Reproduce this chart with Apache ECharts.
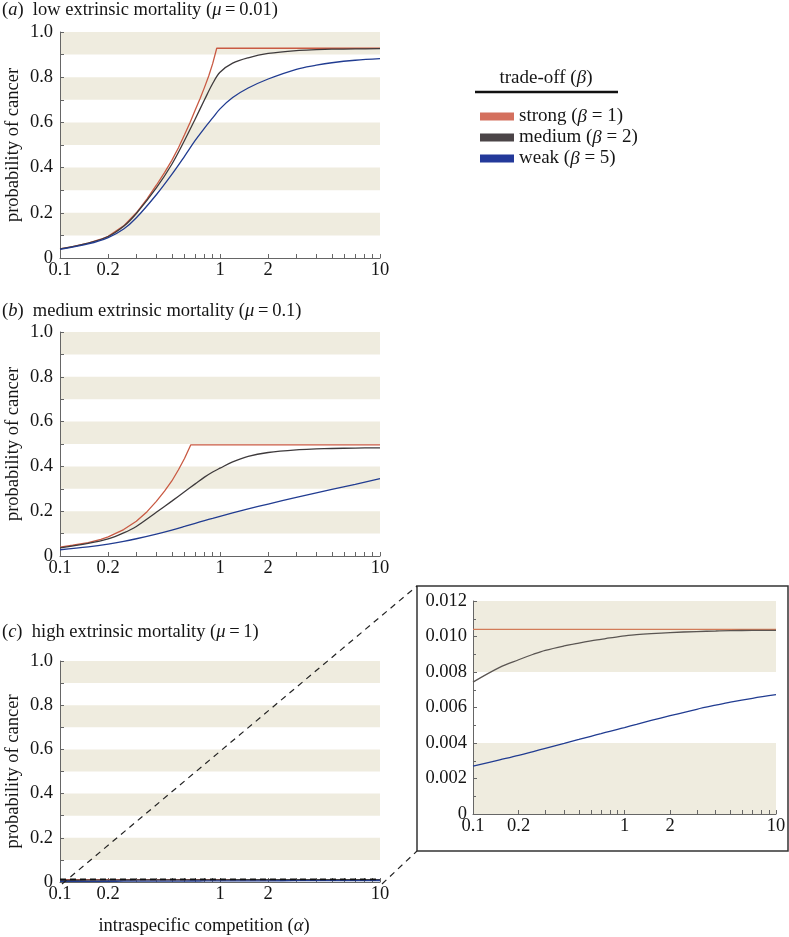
<!DOCTYPE html>
<html><head><meta charset="utf-8">
<script src="https://cdn.jsdelivr.net/npm/echarts@6/dist/echarts.min.js"></script>
<style>html,body{margin:0;padding:0;background:#fff}#c{width:789px;height:937px}</style>
</head><body><div id="c"></div>
<script>
// ---------- data ----------
const alphaGrid = [0.1,0.15,0.2,0.25,0.3,0.4,0.5,0.6,0.7,0.8,0.9,1,1.2,1.5,2,3,4,5,7,10];

// (a) mu = 0.01
const strongA_alpha = [0.1,0.12,0.15,0.18,0.2,0.25,0.3,0.35,0.4,0.45,0.5,0.55,0.6,0.65,0.7,0.75,0.8,0.85,0.9,0.954,10];
const strongA = [0.040,0.050,0.066,0.083,0.096,0.142,0.200,0.262,0.322,0.378,0.432,0.488,0.545,0.600,0.655,0.705,0.755,0.805,0.860,0.928,0.928];
const mediumA = [0.040,0.066,0.095,0.140,0.197,0.310,0.415,0.520,0.615,0.700,0.772,0.822,0.862,0.886,0.905,0.918,0.922,0.924,0.925,0.926];
const weakA   = [0.038,0.062,0.090,0.128,0.178,0.280,0.370,0.450,0.520,0.575,0.620,0.660,0.710,0.752,0.792,0.835,0.853,0.864,0.875,0.882];

// (b) mu = 0.1
const strongB_alpha = [0.1,0.12,0.15,0.18,0.2,0.25,0.3,0.35,0.4,0.45,0.5,0.55,0.6,0.656,10];
const strongB = [0.040,0.048,0.060,0.074,0.085,0.118,0.155,0.198,0.244,0.290,0.335,0.385,0.435,0.496,0.496];
const mediumB = [0.036,0.056,0.076,0.103,0.132,0.195,0.245,0.287,0.322,0.352,0.375,0.392,0.420,0.445,0.462,0.474,0.478,0.480,0.482,0.483];
const weakB   = [0.028,0.041,0.053,0.065,0.077,0.098,0.116,0.132,0.146,0.158,0.168,0.177,0.192,0.210,0.232,0.262,0.282,0.297,0.320,0.345];

// (c) mu = 1
const strongC_alpha = [0.1,10];
const strongC = [0.0104,0.0104];
const mediumC = [0.00743,0.00826,0.00869,0.0090,0.00922,0.00947,0.00963,0.00975,0.00984,0.00992,0.00998,0.01003,0.0101,0.01016,0.01022,0.01028,0.01031,0.01033,0.01034,0.01034];
const weakC   = [0.0027,0.00305,0.0033,0.00352,0.0037,0.00398,0.0042,0.00438,0.00453,0.00466,0.00477,0.00487,0.00505,0.00527,0.00554,0.0059,0.00613,0.0063,0.00652,0.00672];
const zoomBoxTop = [0.012,0.012];

// ticks & labels
const xTickVals = [0.1,0.2,0.3,0.4,0.5,0.6,0.7,0.8,0.9,1,2,3,4,5,6,7,8,9,10];
const xLabelVals = [0.1,0.2,1,2,10];
const xLabelText = ['0.1','0.2','1','2','10'];
const yMainLabels = ['0','0.2','0.4','0.6','0.8','1.0'];
const yInsetLabels = ['0','0.002','0.004','0.006','0.008','0.010','0.012'];

const seriesNames = ['strong (β = 1)','medium (β = 2)','weak (β = 5)'];
const lineColors = ['#c95a43','#3e3a3c','#213c91'];
const legendColors = ['#d4705e','#4b4447','#23399a'];

// ---------- chart ----------
const FONT = 'Liberation Serif';
const FS = 18.5;
const LFS = 19;
const TXT = '#151515';
const STRIPE = '#efecdf';
const pairs = (xs, ys) => xs.map((x, i) => [x, ys[i]]);

const grids = [
  {left: 60, top: 32, width: 320, height: 226},
  {left: 60, top: 332, width: 320, height: 224},
  {left: 60, top: 661, width: 320, height: 225},
  {left: 473, top: 601, width: 303, height: 213}
];

function xAxis(i, withName) {
  const ax = {
    type: 'log', logBase: 10, min: 0.1, max: 10, gridIndex: i,
    axisLine: {lineStyle: {color: '#666', width: 1}},
    axisTick: {inside: true, length: 4, customValues: xTickVals, lineStyle: {color: '#666'}},
    axisLabel: {
      customValues: xLabelVals, margin: 3,
      fontFamily: FONT, fontSize: FS, color: TXT,
      formatter: v => { const k = xLabelVals.findIndex(t => Math.abs(t - v) < 1e-9); return k >= 0 ? xLabelText[k] : ''; }
    },
    splitLine: {show: false}
  };
  if (withName) {
    Object.assign(ax, {
      name: 'intraspecific competition ({it|α})', nameLocation: 'middle', nameGap: 35,
      nameTextStyle: {fontFamily: FONT, fontSize: FS, color: TXT, padding: [0, 32, 0, 0],
        rich: {it: {fontFamily: FONT, fontSize: FS, color: TXT, fontStyle: 'italic'}}}
    });
  }
  return ax;
}
function yMain(i) {
  return {
    type: 'value', min: 0, max: 1, interval: 0.1, gridIndex: i,
    name: 'probability of cancer', nameLocation: 'middle', nameRotate: 90, nameGap: 37,
    nameTextStyle: {fontFamily: FONT, fontSize: FS, color: TXT},
    axisLine: {show: true, lineStyle: {color: '#666', width: 1}},
    axisTick: {show: true, inside: true, length: 4, lineStyle: {color: '#666'}},
    axisLabel: {
      fontFamily: FONT, fontSize: FS, color: TXT, margin: 7,
      formatter: v => { const k = Math.round(v * 10); return k % 2 === 0 ? yMainLabels[k / 2] : ''; }
    },
    splitLine: {show: false},
    splitArea: {show: true, areaStyle: {color: ['rgba(0,0,0,0)', STRIPE]}}
  };
}
const yInset = {
  type: 'value', min: 0, max: 0.012, interval: 0.002, gridIndex: 3,
  axisLine: {show: true, lineStyle: {color: '#666', width: 1}},
  axisTick: {show: true, inside: true, length: 4, lineStyle: {color: '#666'}},
  minorTick: {show: true, splitNumber: 2, length: 3, lineStyle: {color: '#666'}},
  axisLabel: {
    fontFamily: FONT, fontSize: FS, color: TXT, margin: 6,
    formatter: v => yInsetLabels[Math.round(v / 0.002)]
  },
  splitLine: {show: false},
  splitArea: {show: true, areaStyle: {color: [STRIPE, STRIPE, 'rgba(0,0,0,0)', 'rgba(0,0,0,0)']}}
};

function line(name, data, gi, colorIdx, smooth, extra) {
  return Object.assign({
    type: 'line', name, data, xAxisIndex: gi, yAxisIndex: gi,
    showSymbol: false, symbol: 'none', smooth, silent: true,
    lineStyle: {color: lineColors[colorIdx], width: 1.3},
    itemStyle: {color: lineColors[colorIdx]}
  }, extra || {});
}

const series = [
  line(seriesNames[0], pairs(strongA_alpha, strongA), 0, 0, false),
  line(seriesNames[1], pairs(alphaGrid, mediumA), 0, 1, 0.35),
  line(seriesNames[2], pairs(alphaGrid, weakA), 0, 2, 0.35),
  line(seriesNames[0], pairs(strongB_alpha, strongB), 1, 0, false),
  line(seriesNames[1], pairs(alphaGrid, mediumB), 1, 1, 0.35),
  line(seriesNames[2], pairs(alphaGrid, weakB), 1, 2, 0.35),
  line(seriesNames[0], pairs(strongC_alpha, strongC), 2, 0, false),
  line(seriesNames[1], pairs(alphaGrid, mediumC), 2, 1, 0.35),
  line(seriesNames[2], pairs(alphaGrid, weakC), 2, 2, 0.35),
  {type: 'line', name: 'zoom box', data: pairs(strongC_alpha, zoomBoxTop), xAxisIndex: 2, yAxisIndex: 2,
   showSymbol: false, symbol: 'none', silent: true, lineStyle: {color: '#111', width: 1.6, type: [6, 4]}},
  line(seriesNames[0], pairs(strongC_alpha, strongC), 3, 0, false, {lineStyle: {color: '#d27b58', width: 1.3}}),
  line(seriesNames[1], pairs(alphaGrid, mediumC), 3, 1, 0.35, {lineStyle: {color: '#5a5552', width: 1.3}}),
  line(seriesNames[2], pairs(alphaGrid, weakC), 3, 2, 0.35)
];

function title(letter, text, mu, y) {
  return {
    type: 'text', left: 2, top: y, z: 100,
    style: {
      text: '(' + '{it|' + letter + '})  ' + text + ' ({it|μ}\u2009=\u2009' + mu + ')',
      fontFamily: FONT, fontSize: FS, fill: TXT,
      rich: {it: {fontFamily: FONT, fontSize: FS, fill: TXT, fontStyle: 'italic'}}
    }
  };
}

const chart = echarts.init(document.getElementById('c'), null, {renderer: 'canvas'});
chart.setOption({
  animation: false,
  backgroundColor: '#fff',
  grid: grids,
  xAxis: [xAxis(0), xAxis(1), xAxis(2, true), xAxis(3)],
  yAxis: [yMain(0), yMain(1), yMain(2), yInset],
  legend: {
    data: seriesNames.map((n, i) => ({name: n, itemStyle: {color: legendColors[i], borderWidth: 0}})),
    orient: 'vertical', left: 475, top: 102, icon: 'rect',
    itemWidth: 34, itemHeight: 8, itemGap: 2, selectedMode: false,
    formatter: n => n.replace('β', '{it|β}'),
    textStyle: {fontFamily: FONT, fontSize: LFS, color: TXT,
      rich: {it: {fontFamily: FONT, fontSize: LFS, color: TXT, fontStyle: 'italic'}}}
  },
  series,
  graphic: [
    title('a', 'low extrinsic mortality', '0.01', 1),
    title('b', 'medium extrinsic mortality', '0.1', 302),
    title('c', 'high extrinsic mortality', '1', 623),
    {type: 'text', x: 546, y: 78, z: 100, style: {
      text: 'trade-off ({it|β})', fontFamily: FONT, fontSize: LFS, fill: TXT, align: 'center', verticalAlign: 'middle',
      rich: {it: {fontFamily: FONT, fontSize: LFS, fill: TXT, fontStyle: 'italic'}}}},
    {type: 'line', z: 100, shape: {x1: 475, y1: 92, x2: 618, y2: 92}, style: {stroke: '#111', lineWidth: 2.5}},
    {type: 'rect', z: 100, shape: {x: 417, y: 586, width: 371, height: 265}, style: {fill: 'none', stroke: '#333', lineWidth: 1.5}},
    {type: 'line', z: 100, shape: {x1: 62, y1: 884, x2: 417, y2: 586}, style: {stroke: '#222', lineWidth: 1.2, lineDash: [6, 5]}},
    {type: 'line', z: 100, shape: {x1: 382, y1: 884, x2: 417, y2: 851}, style: {stroke: '#222', lineWidth: 1.2, lineDash: [6, 5]}}
  ]
});
</script>
</body></html>
